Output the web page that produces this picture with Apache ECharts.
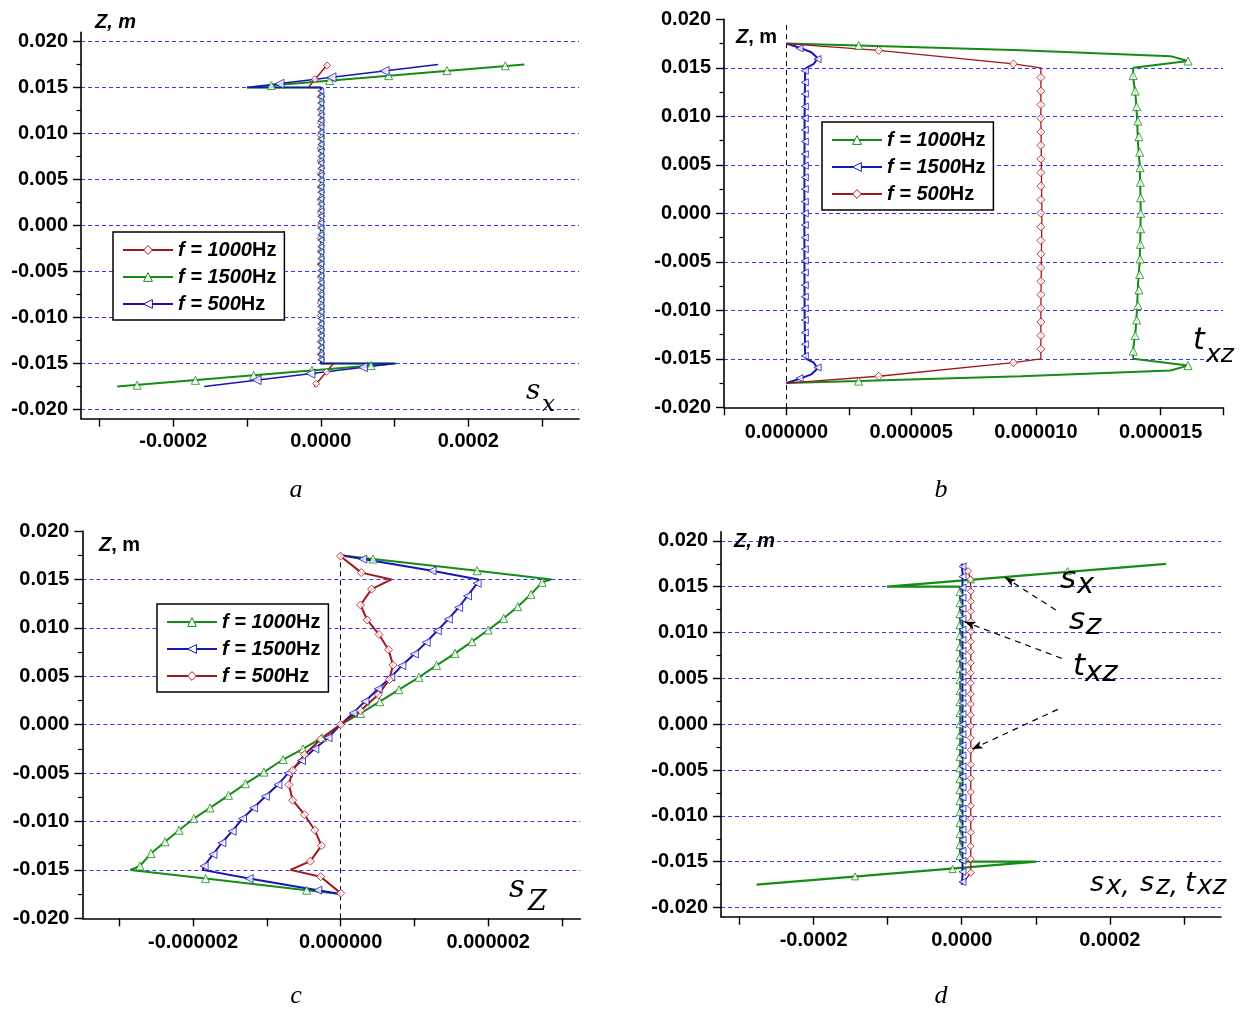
<!DOCTYPE html>
<html>
<head>
<meta charset="utf-8">
<script src="https://cdn.jsdelivr.net/npm/echarts@6.0.0/dist/echarts.min.js"></script>
<style>
html,body{margin:0;padding:0;background:#ffffff;}
#chart{width:1245px;height:1010px;}
</style>
</head>
<body>
<div id="chart"></div>
<script>
// ================= tick / label values =================
const Y_MAJOR = [-0.020,-0.015,-0.010,-0.005,0,0.005,0.010,0.015,0.020];
const Y_MINOR = [-0.0175,-0.0125,-0.0075,-0.0025,0.0025,0.0075,0.0125,0.0175];
const GRIDLINES_AD = [-0.020,-0.015,-0.010,-0.005,0,0.005,0.010,0.015,0.020];
const GRIDLINES_BC = [-0.015,-0.010,-0.005,0,0.005,0.010,0.015];
const X_TICKS_AD = [-0.0003,-0.0002,-0.0001,0,0.0001,0.0002,0.0003];
const X_LABELS_AD = [-0.0002,0,0.0002];
const X_TICKS_B = [-0.0000025,0,0.0000025,0.000005,0.0000075,0.00001,0.0000125,0.000015,0.0000175];
const X_LABELS_B = [0,0.000005,0.00001,0.000015];
const X_TICKS_C = [-0.000003,-0.000002,-0.000001,0,0.000001,0.000002,0.000003];
const X_LABELS_C = [-0.000002,0,0.000002];

// ================= panel a : s_x =================
const A_1000_LINE = [[0.0000090,0.0175],[-0.0000170,0.0150],[0,0.0150],[0,-0.0150],[0.0000170,-0.0150],[-0.0000090,-0.0175]];
const A_1000_FACE = [[0.0000085,0.0174],[-0.0000080,0.0159],[0.0000077,-0.0159],[-0.0000062,-0.0172]];
const A_1000_CORE_X = 0;
const A_1000_CORE_Z = [0.0140,0.0126,0.0112,0.0098,0.0084,0.0070,0.0056,0.0042,0.0028,0.0014,0,-0.0014,-0.0028,-0.0042,-0.0056,-0.0070,-0.0084,-0.0098,-0.0112,-0.0126,-0.0140];

const A_1500_LINE = [[0.000276,0.0175],[-0.000100,0.0150],[0,0.0150],[0,-0.0150],[0.000102,-0.0150],[-0.000276,-0.0175]];
const A_1500_FACE = [[0.000250,0.01736],[0.000171,0.01683],[0.000092,0.01629],[0.000012,0.01575],[-0.000067,0.01522],
                     [0.000068,-0.01522],[-0.000012,-0.01575],[-0.000091,-0.01629],[-0.000170,-0.01683],[-0.000249,-0.01736]];
const A_1500_CORE_X = 0.0000015;
const A_1500_CORE_Z = [0.0143,0.0137,0.0130,0.0124,0.0117,0.0111,0.0104,0.0098,0.0091,0.0085,0.0078,0.0072,0.0065,0.0059,0.0052,0.0046,0.0039,0.0033,0.0026,0.0020,0.0013,0.0007,0,
                       -0.0007,-0.0013,-0.0020,-0.0026,-0.0033,-0.0039,-0.0046,-0.0052,-0.0059,-0.0065,-0.0072,-0.0078,-0.0085,-0.0091,-0.0098,-0.0104,-0.0111,-0.0117,-0.0124,-0.0130,-0.0137,-0.0143];

const A_500_LINE = [[0.000159,0.0175],[-0.000100,0.0150],[0,0.0150],[0,-0.0150],[0.000100,-0.0150],[-0.000158,-0.0175]];
const A_500_FACE = [[-0.000056,0.0154],[0.0000145,0.0161],[0.0000865,0.0168],[0.000057,-0.0154],[-0.000014,-0.0161],[-0.000087,-0.0168]];
const A_500_CORE_X = 0;
const A_500_CORE_Z = [0.0146,0.0140,0.0133,0.0127,0.0120,0.0114,0.0107,0.0101,0.0094,0.0088,0.0081,0.0075,0.0068,0.0062,0.0055,0.0049,0.0042,0.0036,0.0029,0.0023,0.0016,0.0010,0.0003,
                      -0.0003,-0.0010,-0.0016,-0.0023,-0.0029,-0.0036,-0.0042,-0.0049,-0.0055,-0.0062,-0.0068,-0.0075,-0.0081,-0.0088,-0.0094,-0.0101,-0.0107,-0.0114,-0.0120,-0.0127,-0.0133,-0.0140,-0.0146];

// ================= panel b : t_xz =================
const B_1000_LINE = [[0,0.0175],[0.0000029,0.0173],[0.0000094,0.0168],[0.0000154,0.0162],[0.0000161,0.0157],[0.0000139,0.0150],
  [0.0000139,0.0140],[0.0000140,0.0120],[0.00001405,0.0100],[0.0000141,0.0070],[0.00001416,0.0050],[0.00001419,0.0020],[0.0000142,0],
  [0.00001419,-0.0020],[0.00001416,-0.0050],[0.0000141,-0.0070],[0.00001405,-0.0100],[0.0000140,-0.0120],[0.0000139,-0.0140],
  [0.0000139,-0.0150],[0.0000161,-0.0157],[0.0000154,-0.0162],[0.0000094,-0.0168],[0.0000029,-0.0173],[0,-0.0175]];
const B_1000_MARKS = [[0.0000029,0.0173],[0.0000161,0.0157],
  [0.0000139,0.0142],[0.00001398,0.0126],[0.00001404,0.0110],[0.00001409,0.0095],[0.00001413,0.0079],[0.00001416,0.0063],[0.00001418,0.0047],[0.00001419,0.0032],[0.0000142,0.0016],[0.0000142,0],
  [0.0000142,-0.0016],[0.00001419,-0.0032],[0.00001418,-0.0047],[0.00001416,-0.0063],[0.00001413,-0.0079],[0.00001409,-0.0095],[0.00001404,-0.0110],[0.00001398,-0.0126],[0.0000139,-0.0142],
  [0.0000161,-0.0157],[0.0000029,-0.0173]];

const B_1500_LINE = [[0,0.0175],[0.0000005,0.0171],[0.0000010,0.0166],[0.00000125,0.0160],[0.0000011,0.0154],[0.0000008,0.0150],[0.00000075,0.0145],
  [0.00000073,0.0100],[0.00000072,0],[0.00000073,-0.0100],
  [0.00000075,-0.0145],[0.0000008,-0.0150],[0.0000011,-0.0154],[0.00000125,-0.0160],[0.0000010,-0.0166],[0.0000005,-0.0171],[0,-0.0175]];
const B_1500_FACE = [[0.00000053,0.0170],[0.00000125,0.0159],[0.00000125,-0.0159],[0.00000053,-0.0170]];
const B_1500_CORE_X = 0.00000074;
const B_1500_CORE_Z = [0.0147,0.0135,0.0123,0.0110,0.0098,0.0086,0.0074,0.0061,0.0049,0.0037,0.0025,0.0012,0,
                       -0.0012,-0.0025,-0.0037,-0.0049,-0.0061,-0.0074,-0.0086,-0.0098,-0.0110,-0.0123,-0.0135,-0.0147];

const B_500_LINE = [[0,0.0175],[0.0000037,0.0168],[0.0000091,0.0154],[0.0000102,0.0150],[0.0000102,0.0100],[0.00001024,0],
  [0.0000102,-0.0100],[0.0000102,-0.0150],[0.0000091,-0.0154],[0.0000037,-0.0168],[0,-0.0175]];
const B_500_FACE = [[0.0000037,0.0168],[0.0000091,0.0154],[0.0000091,-0.0154],[0.0000037,-0.0168]];
const B_500_CORE_X = 0.0000102;
const B_500_CORE_Z = [0.0140,0.0126,0.0112,0.0098,0.0084,0.0070,0.0056,0.0042,0.0028,0.0014,0,
                      -0.0014,-0.0028,-0.0042,-0.0056,-0.0070,-0.0084,-0.0098,-0.0112,-0.0126,-0.0140];

// ================= panel c : s_z =================
const C_1000_LINE = [[0,0.0175],[0.00000044,0.0171],[0.00000185,0.0159],[0.00000286,0.0150],
  [0.00000273,0.0147],[0.00000258,0.01346],[0.00000240,0.01218],[0.00000221,0.01098],[0.00000200,0.00977],[0.00000178,0.00857],
  [0.00000155,0.00736],[0.00000130,0.00612],[0.00000106,0.00489],[0.00000079,0.00361],[0.00000053,0.00237],[0.00000027,0.00116],[0,0],
  [-0.00000025,-0.00135],[-0.00000051,-0.0025],[-0.00000078,-0.0036],[-0.00000104,-0.0049],[-0.00000129,-0.0061],[-0.00000152,-0.0073],
  [-0.00000177,-0.0086],[-0.00000199,-0.0097],[-0.00000219,-0.0109],[-0.00000238,-0.0121],[-0.00000257,-0.0133],[-0.00000272,-0.0146],
  [-0.00000285,-0.0150],[-0.00000183,-0.0159],[-0.00000046,-0.0171],[0,-0.0175]];
const C_1000_MARKS = [[0.00000044,0.0171],[0.00000185,0.0159],
  [0.00000273,0.0147],[0.00000258,0.01346],[0.00000240,0.01218],[0.00000221,0.01098],[0.00000200,0.00977],[0.00000178,0.00857],
  [0.00000155,0.00736],[0.00000130,0.00612],[0.00000106,0.00489],[0.00000079,0.00361],[0.00000053,0.00237],[0.00000027,0.00116],
  [-0.00000025,-0.00135],[-0.00000051,-0.0025],[-0.00000078,-0.0036],[-0.00000104,-0.0049],[-0.00000129,-0.0061],[-0.00000152,-0.0073],
  [-0.00000177,-0.0086],[-0.00000199,-0.0097],[-0.00000219,-0.0109],[-0.00000238,-0.0121],[-0.00000257,-0.0133],[-0.00000272,-0.0146],
  [-0.00000183,-0.0159],[-0.00000046,-0.0171]];

const C_1500_LINE = [[0,0.0175],[0.0000003,0.0171],[0.00000124,0.0159],[0.00000187,0.0150],
  [0.00000185,0.0146],[0.00000172,0.0133],[0.0000016,0.0121],[0.00000146,0.0109],[0.00000131,0.0097],[0.00000116,0.0085],
  [0.000001,0.0073],[0.00000083,0.0061],[0.00000068,0.0049],[0.00000051,0.0037],[0.00000033,0.0024],[0.00000017,0.0012],[0,0],
  [-0.00000017,-0.00135],[-0.00000035,-0.0025],[-0.00000053,-0.0037],[-0.00000071,-0.0050],[-0.00000085,-0.0062],[-0.00000102,-0.0074],
  [-0.00000118,-0.0086],[-0.00000133,-0.0097],[-0.00000147,-0.0110],[-0.00000161,-0.0122],[-0.00000173,-0.0134],[-0.00000185,-0.0146],
  [-0.00000187,-0.0150],[-0.00000124,-0.0159],[-0.00000031,-0.0171],[0,-0.0175]];
const C_1500_MARKS = [[0.0000003,0.0171],[0.00000124,0.0159],
  [0.00000185,0.0146],[0.00000172,0.0133],[0.0000016,0.0121],[0.00000146,0.0109],[0.00000131,0.0097],[0.00000116,0.0085],
  [0.000001,0.0073],[0.00000083,0.0061],[0.00000068,0.0049],[0.00000051,0.0037],[0.00000033,0.0024],[0.00000017,0.0012],
  [-0.00000017,-0.00135],[-0.00000035,-0.0025],[-0.00000053,-0.0037],[-0.00000071,-0.0050],[-0.00000085,-0.0062],[-0.00000102,-0.0074],
  [-0.00000118,-0.0086],[-0.00000133,-0.0097],[-0.00000147,-0.0110],[-0.00000161,-0.0122],[-0.00000173,-0.0134],[-0.00000185,-0.0146],
  [-0.00000124,-0.0159],[-0.00000031,-0.0171]];

const C_500_LINE = [[0,0.0174],[0.00000028,0.0157],[0.00000069,0.0150],[0.00000042,0.0140],[0.00000027,0.01236],[0.00000036,0.01081],
  [0.00000052,0.00932],[0.00000065,0.00774],[0.00000071,0.00615],[0.00000066,0.00464],[0.00000051,0.00309],[0.00000027,0.00147],[0,0],
  [-0.00000027,-0.0015],[-0.00000049,-0.0031],[-0.00000065,-0.0047],[-0.00000070,-0.0062],[-0.00000065,-0.0078],[-0.00000049,-0.0093],
  [-0.00000035,-0.0109],[-0.00000026,-0.0125],[-0.00000041,-0.0141],[-0.00000068,-0.0150],[-0.00000027,-0.0157],[0,-0.0174]];
const C_500_MARKS = [[0,0.0174],[0.00000028,0.0157],[0.00000042,0.0140],[0.00000027,0.01236],[0.00000036,0.01081],
  [0.00000052,0.00932],[0.00000065,0.00774],[0.00000071,0.00615],[0.00000066,0.00464],[0.00000051,0.00309],[0.00000027,0.00147],[0,0],
  [-0.00000027,-0.0015],[-0.00000049,-0.0031],[-0.00000065,-0.0047],[-0.00000070,-0.0062],[-0.00000065,-0.0078],[-0.00000049,-0.0093],
  [-0.00000035,-0.0109],[-0.00000026,-0.0125],[-0.00000041,-0.0141],[-0.00000027,-0.0157],[0,-0.0174]];

// ================= panel d : s_x, s_z, t_xz =================
const D_SX_LINE = [[0.000276,0.0175],[-0.000101,0.0150],[-0.000002,0.0150],[-0.000002,-0.0150],[0.000101,-0.0150],[-0.000277,-0.0175]];
const D_SX_FACE = [[0.000143,0.0167],[0.0000124,0.0158],[-0.0000124,-0.0158],[-0.000144,-0.0166]];
const D_SX_CORE_X = -0.000003;
const D_SX_CORE_Z = [0.0144,0.0132,0.0120,0.0108,0.0096,0.0084,0.0072,0.0060,0.0048,0.0036,0.0024,0.0012,0,
                     -0.0012,-0.0024,-0.0036,-0.0048,-0.0060,-0.0072,-0.0084,-0.0096,-0.0108,-0.0120,-0.0132,-0.0144];
const D_SZ_LINE = [[0,0.0175],[0.000001,0.0165],[0.000001,-0.0165],[0,-0.0175]];
const D_SZ_CORE_X = 0.000001;
const D_SZ_CORE_Z = [0.0172,0.0161,0.0149,0.0138,0.0126,0.0115,0.0103,0.0092,0.0080,0.0069,0.0057,0.0046,0.0034,0.0023,0.0011,0,
                     -0.0011,-0.0023,-0.0034,-0.0046,-0.0057,-0.0069,-0.0080,-0.0092,-0.0103,-0.0115,-0.0126,-0.0138,-0.0149,-0.0161,-0.0172];
const D_TXZ_LINE = [[0,0.0175],[0.0000085,0.0167],[0.0000117,0.0158],[0.0000122,0.0150],[0.0000122,-0.0150],[0.0000122,-0.0162],[0,-0.0175]];
const D_TXZ_FACE = [[0.0000085,0.0167],[0.0000117,0.0158],[0.0000122,-0.0162]];
const D_TXZ_CORE_X = 0.0000122;
const D_TXZ_CORE_Z = [0.0145,0.0134,0.0123,0.0112,0.0101,0.0090,0.0079,0.0067,0.0056,0.0045,0.0033,0.0022,0.0010,
                      -0.0002,-0.0015,-0.0028,-0.0044,-0.0059,-0.0074,-0.0089,-0.0103,-0.0118,-0.0133,-0.0147];
const D_ARROWS = [[[0.000127,0.01245],[0.0000581,0.01604]],
                  [[0.000135,0.00718],[0.0000038,0.01117]],
                  [[0.0001297,0.00162],[0.0000135,-0.00274]]];

// ================= styling =================
const RED = '#a3161c', GREEN = '#168c16', BLUE = '#1616b4', GRIDC = '#3535ff';
const SANS = 'Liberation Sans', DSERIF = 'DejaVu Serif', SERIF = 'Liberation Serif', OBL = 'DejaVu Sans';
const SYM = {tri:['triangle',0], left:['triangle',90], dia:['diamond',0]};

function core(x, zs){ return zs.map(z => [x, z]); }

function curve(gi, name, pts, color, width, sym){
  return {type:'line', name, xAxisIndex:gi, yAxisIndex:gi, data:pts, showSymbol:false,
    symbol:SYM[sym][0], symbolRotate:SYM[sym][1], symbolSize:8,
    lineStyle:{color, width}, itemStyle:{color}, silent:true, z:3, animation:false};
}
function marks(gi, pts, color, sym, size){
  return {type:'scatter', xAxisIndex:gi, yAxisIndex:gi, data:pts, symbol:SYM[sym][0], symbolRotate:SYM[sym][1], symbolSize:size,
    itemStyle:{color:'#ffffff', borderColor:color, borderWidth:1}, silent:true, z:4, animation:false};
}
function guide(gi, mlData, lineStyle, extra){
  return {type:'line', xAxisIndex:gi, yAxisIndex:gi, data:[], silent:true, z:2, animation:false,
    markLine:Object.assign({silent:true, animation:false, symbol:'none', z:2, label:{show:false},
      emphasis:{disabled:true}, lineStyle, data:mlData}, extra||{})};
}

const grids = [
  {left:81,  top:32.3,  width:498, height:386.4},
  {left:724, top:19.3,  width:499, height:388},
  {left:82.4,top:531,   width:498, height:387.3},
  {left:721, top:531.7, width:500, height:385}
].map(g => Object.assign({containLabel:false, outerBoundsMode:'none'}, g));

const LBL = {color:'#000', fontSize:20, fontWeight:'bold', fontFamily:SANS};
function xAx(gi, min, max, ticks, labels, dec, margin){
  return {type:'value', gridIndex:gi, min, max, position:'bottom',
    axisLine:{show:true, onZero:false, lineStyle:{color:'#000', width:1.6}},
    axisTick:{show:true, length:8, customValues:ticks, lineStyle:{color:'#000', width:1.4}},
    axisLabel:Object.assign({show:true, customValues:labels, margin, formatter:v => v.toFixed(dec)}, LBL),
    splitLine:{show:false}, minorTick:{show:false}};
}
function yAx(gi, min, max){
  return {type:'value', gridIndex:gi, min, max, position:'left', z:5,
    axisLine:{show:true, onZero:false, lineStyle:{color:'#000', width:1.6}},
    axisTick:{show:true, length:8, customValues:Y_MAJOR, lineStyle:{color:'#000', width:1.4}},
    axisLabel:Object.assign({show:true, customValues:Y_MAJOR, margin:13, formatter:v => v.toFixed(3)}, LBL),
    splitLine:{show:false}, minorTick:{show:false}};
}
function yMinor(gi, min, max){
  return {type:'value', gridIndex:gi, min, max, position:'left', z:5,
    axisLine:{show:false, onZero:false},
    axisTick:{show:true, length:4.5, customValues:Y_MINOR, lineStyle:{color:'#000', width:1.2}},
    axisLabel:{show:false}, splitLine:{show:false}};
}
function yGrid(gi, min, max, vals){
  return {type:'value', gridIndex:gi, min, max, position:'left', z:0,
    axisLine:{show:false, onZero:false},
    axisTick:{show:false, customValues:vals},
    axisLabel:{show:false},
    splitLine:{show:true, showMinLine:true, showMaxLine:true, lineStyle:{color:GRIDC, type:[4,3], width:1}}};
}

const xAxes = [
  xAx(0, -0.000325, 0.00035, X_TICKS_AD, X_LABELS_AD, 4, 13),
  xAx(1, -0.0000025, 0.0000175, X_TICKS_B, X_LABELS_B, 6, 15),
  xAx(2, -0.0000035, 0.00000325, X_TICKS_C, X_LABELS_C, 6, 14),
  xAx(3, -0.000325, 0.00035, X_TICKS_AD, X_LABELS_AD, 4, 14)
];
const yAxes = [
  yAx(0,-0.021,0.021), yAx(1,-0.020,0.020), yAx(2,-0.020,0.020), yAx(3,-0.021,0.021),
  yMinor(0,-0.021,0.021), yMinor(1,-0.020,0.020), yMinor(2,-0.020,0.020), yMinor(3,-0.021,0.021),
  yGrid(0,-0.021,0.021,GRIDLINES_AD), yGrid(1,-0.020,0.020,GRIDLINES_BC),
  yGrid(2,-0.020,0.020,GRIDLINES_BC), yGrid(3,-0.021,0.021,GRIDLINES_AD)
];

const ZERO_STYLE = {color:'#000', type:[5,4], width:1};
const series = [
  guide(1, [[{coord:[0,0.0194]},{coord:[0,-0.020]}]], ZERO_STYLE),
  guide(2, [[{coord:[0,0.0177]},{coord:[0,-0.020]}]], ZERO_STYLE),

  // panel a
  curve(0,'a1000',A_1000_LINE,RED,1.5,'dia'),
  curve(0,'a1500',A_1500_LINE,GREEN,2,'tri'),
  curve(0,'a500',A_500_LINE,BLUE,1.3,'left'),
  marks(0,A_1000_FACE.concat(core(A_1000_CORE_X,A_1000_CORE_Z)),RED,'dia',7),
  marks(0,A_1500_FACE,GREEN,'tri',8),
  marks(0,core(A_1500_CORE_X,A_1500_CORE_Z),GREEN,'tri',6),
  marks(0,A_500_FACE,BLUE,'left',9),
  marks(0,core(A_500_CORE_X,A_500_CORE_Z),BLUE,'left',6),

  // panel b
  curve(1,'b1000',B_1000_LINE,GREEN,2,'tri'),
  curve(1,'b1500',B_1500_LINE,BLUE,2,'left'),
  curve(1,'b500',B_500_LINE,RED,1.3,'dia'),
  marks(1,B_1000_MARKS,GREEN,'tri',8),
  marks(1,B_1500_FACE.concat(core(B_1500_CORE_X,B_1500_CORE_Z)),BLUE,'left',7),
  marks(1,B_500_FACE.concat(core(B_500_CORE_X,B_500_CORE_Z)),RED,'dia',8),

  // panel c
  curve(2,'c1000',C_1000_LINE,GREEN,2,'tri'),
  curve(2,'c1500',C_1500_LINE,BLUE,2,'left'),
  curve(2,'c500',C_500_LINE,RED,2,'dia'),
  marks(2,C_1000_MARKS,GREEN,'tri',8),
  marks(2,C_1500_MARKS,BLUE,'left',8),
  marks(2,C_500_MARKS,RED,'dia',8),

  // panel d
  curve(3,'dsx',D_SX_LINE,GREEN,2.2,'tri'),
  curve(3,'dsz',D_SZ_LINE,BLUE,2,'left'),
  curve(3,'dtxz',D_TXZ_LINE,RED,1.3,'dia'),
  marks(3,D_SX_FACE.concat(core(D_SX_CORE_X,D_SX_CORE_Z)),GREEN,'tri',7),
  marks(3,core(D_SZ_CORE_X,D_SZ_CORE_Z),BLUE,'left',7),
  marks(3,D_TXZ_FACE.concat(core(D_TXZ_CORE_X,D_TXZ_CORE_Z)),RED,'dia',7),
  guide(3, D_ARROWS.map(a => [{coord:a[0]},{coord:a[1]}]), {color:'#000', type:[6,5], width:1.2},
        {symbol:['none','arrow'], symbolSize:[6,11], z:6})
];

function legend(names, colors, left, top){
  return {show:true, orient:'vertical', left, top, selectedMode:false,
    itemWidth:50, itemHeight:11, itemGap:7, padding:[8,8,6,9],
    backgroundColor:'#ffffff', borderColor:'#000', borderWidth:1.5, borderRadius:0,
    data:names.map((n,i) => ({name:n, itemStyle:{color:'#ffffff', borderColor:colors[i], borderWidth:1}})),
    formatter:name => '{i|f = ' + name.slice(1) + '}{b|Hz}',
    textStyle:{rich:{
      i:{fontSize:20, fontWeight:'bold', fontStyle:'italic', fontFamily:SANS, color:'#000'},
      b:{fontSize:20, fontWeight:'bold', fontFamily:SANS, color:'#000'}}}};
}

function t(text, x, y, size, family, italic, bold, align){
  return {type:'text', x, y, silent:true, z:100, style:{text, fontSize:size, fontFamily:family,
    fontStyle:italic ? 'italic' : 'normal', fontWeight:bold ? 'bold' : 'normal', fill:'#000',
    align:align || 'left', verticalAlign:'middle'}};
}
const ZM_RICH = {bi:{fontSize:20, fontWeight:'bold', fontStyle:'italic', fontFamily:SANS, fill:'#000'},
                 b:{fontSize:20, fontWeight:'bold', fontFamily:SANS, fill:'#000'}};
function rt(text, x, y){
  return {type:'text', x, y, silent:true, z:100, style:{text, rich:ZM_RICH, fill:'#000', align:'left', verticalAlign:'middle'}};
}

const graphic = [
  rt('{bi|Z, m}', 95, 22), rt('{bi|Z}{b|, m}', 736, 37), rt('{bi|Z}{b|, m}', 99, 545), rt('{bi|Z, m}', 734, 541),
  t('s',526,392,28,DSERIF,true,false), t('x',542,405,23,DSERIF,true,false),
  t('t',1193,341,30,OBL,true,false), t('xz',1206,355,25,OBL,true,false),
  t('s',509,889,31,DSERIF,true,false), t('Z',528,903,27,DSERIF,true,false),
  t('s',1060,580,31,OBL,true,false), t('x',1077,585,29,OBL,true,false),
  t('s',1069,621,31,OBL,true,false), t('z',1086,626,29,OBL,true,false),
  t('t',1073,667,31,OBL,true,false), t('xz',1085,673,29,OBL,true,false),
  t('s',1090,884,27,OBL,true,false), t('x,',1106,887,26,OBL,true,false),
  t('s',1140,884,27,OBL,true,false), t('z,',1156,887,26,OBL,true,false),
  t('t',1185,884,27,OBL,true,false), t('xz',1197,887,26,OBL,true,false),
  t('a',296,490,26,SERIF,true,false,'center'), t('b',941,490,26,SERIF,true,false,'center'),
  t('c',296,996,26,SERIF,true,false,'center'), t('d',941,996,26,SERIF,true,false,'center')
];

const chart = echarts.init(document.getElementById('chart'), null, {renderer:'canvas', width:1245, height:1010});
chart.setOption({
  animation:false,
  backgroundColor:'#ffffff',
  grid:grids,
  xAxis:xAxes,
  yAxis:yAxes,
  legend:[
    legend(['a1000','a1500','a500'], [RED,GREEN,BLUE], 113, 232),
    legend(['b1000','b1500','b500'], [GREEN,BLUE,RED], 822, 122),
    legend(['c1000','c1500','c500'], [GREEN,BLUE,RED], 157, 604)
  ],
  series,
  graphic
});
</script>
</body>
</html>
